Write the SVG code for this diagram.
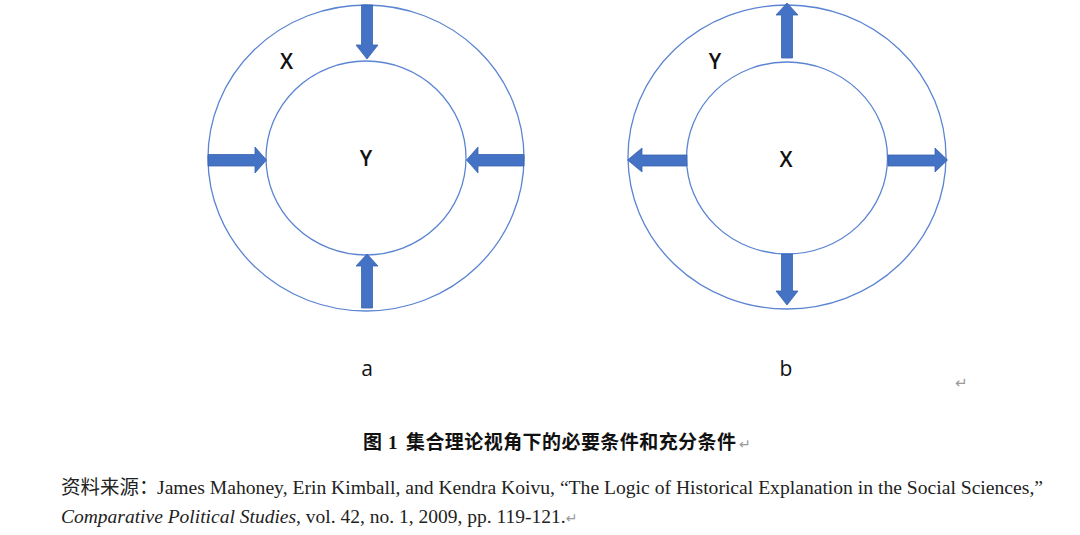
<svg xmlns="http://www.w3.org/2000/svg" width="1080" height="535" viewBox="0 0 1080 535">
<style>
.ring{fill:none;stroke:#5B84D1;stroke-width:1.3}
.arr{fill:#4472C4;stroke:#3A63AE;stroke-width:0.8}
.lbl{font-family:"Open Sans","Liberation Sans",sans-serif;font-size:21px;font-weight:600;fill:#111;text-anchor:middle}
.sub{font-family:"Open Sans","Liberation Sans",sans-serif;font-size:21px;fill:#111;text-anchor:middle}
.cap{font-family:"Liberation Serif","Noto Sans CJK SC",serif;font-size:19px;font-weight:bold;fill:#111}
.src{font-family:"Liberation Serif","Noto Sans CJK SC",serif;font-size:19.5px;fill:#222}
.ret{fill:#999;font-family:"DejaVu Sans",sans-serif;font-weight:normal}
</style>
<rect width="1080" height="535" fill="#fff"/>
<g id="diagram-a">
<ellipse class="ring" cx="366" cy="158" rx="158" ry="153"/>
<ellipse class="ring" cx="366" cy="158" rx="100" ry="97"/>
<text class="lbl" x="286.5" y="69">X</text>
<text class="lbl" x="366" y="166">Y</text>
<text class="sub" x="367" y="376">a</text>
</g>
<g id="diagram-b">
<ellipse class="ring" cx="787" cy="157" rx="159" ry="152"/>
<ellipse class="ring" cx="787" cy="158" rx="100.5" ry="96"/>
<text class="lbl" x="715" y="69">Y</text>
<text class="lbl" x="786" y="167">X</text>
<text class="sub" x="786" y="376">b</text>
</g>
<g id="connectors">
<polygon class="arr" points="361.5,5 372.5,5 372.5,45 378,45 367,59 356,45 361.5,45"/>
<polygon class="arr" points="361.5,308 372.5,308 372.5,266 378,266 367,254 356,266 361.5,266"/>
<polygon class="arr" points="208,154.5 255,154.5 255,147 266.5,160 255,173 255,166 208,166"/>
<polygon class="arr" points="524,154.5 478,154.5 478,147 466.5,160 478,173 478,166 524,166"/>
<polygon class="arr" points="781.5,58 792.5,58 792.5,15 798,15 787,3 776,15 781.5,15"/>
<polygon class="arr" points="781.5,254 792.5,254 792.5,291 798,291 787,305 776,291 781.5,291"/>
<polygon class="arr" points="687,155 642,155 642,148 627.5,160 642,172 642,166 687,166"/>
<polygon class="arr" points="888,155 935,155 935,148 947.5,160 935,172 935,166 888,166"/>
</g>
<text class="ret" x="955" y="388" font-size="15">↵</text>
<text class="cap" y="449"><tspan x="363">图</tspan><tspan x="388">1</tspan><tspan x="406" textLength="330" lengthAdjust="spacing">集合理论视角下的必要条件和充分条件</tspan><tspan class="ret" x="739" font-size="14">↵</tspan></text>
<text class="src" y="494"><tspan x="61">资料来源：</tspan><tspan x="157" textLength="886" lengthAdjust="spacingAndGlyphs">James Mahoney, Erin Kimball, and Kendra Koivu, “The Logic of Historical Explanation in the Social Sciences,”</tspan></text>
<text class="src" y="523"><tspan x="61" font-style="italic">Comparative Political Studies</tspan>, vol. 42, no. 1, 2009, pp. 119-121.<tspan class="ret" font-size="14">↵</tspan></text>
</svg>
